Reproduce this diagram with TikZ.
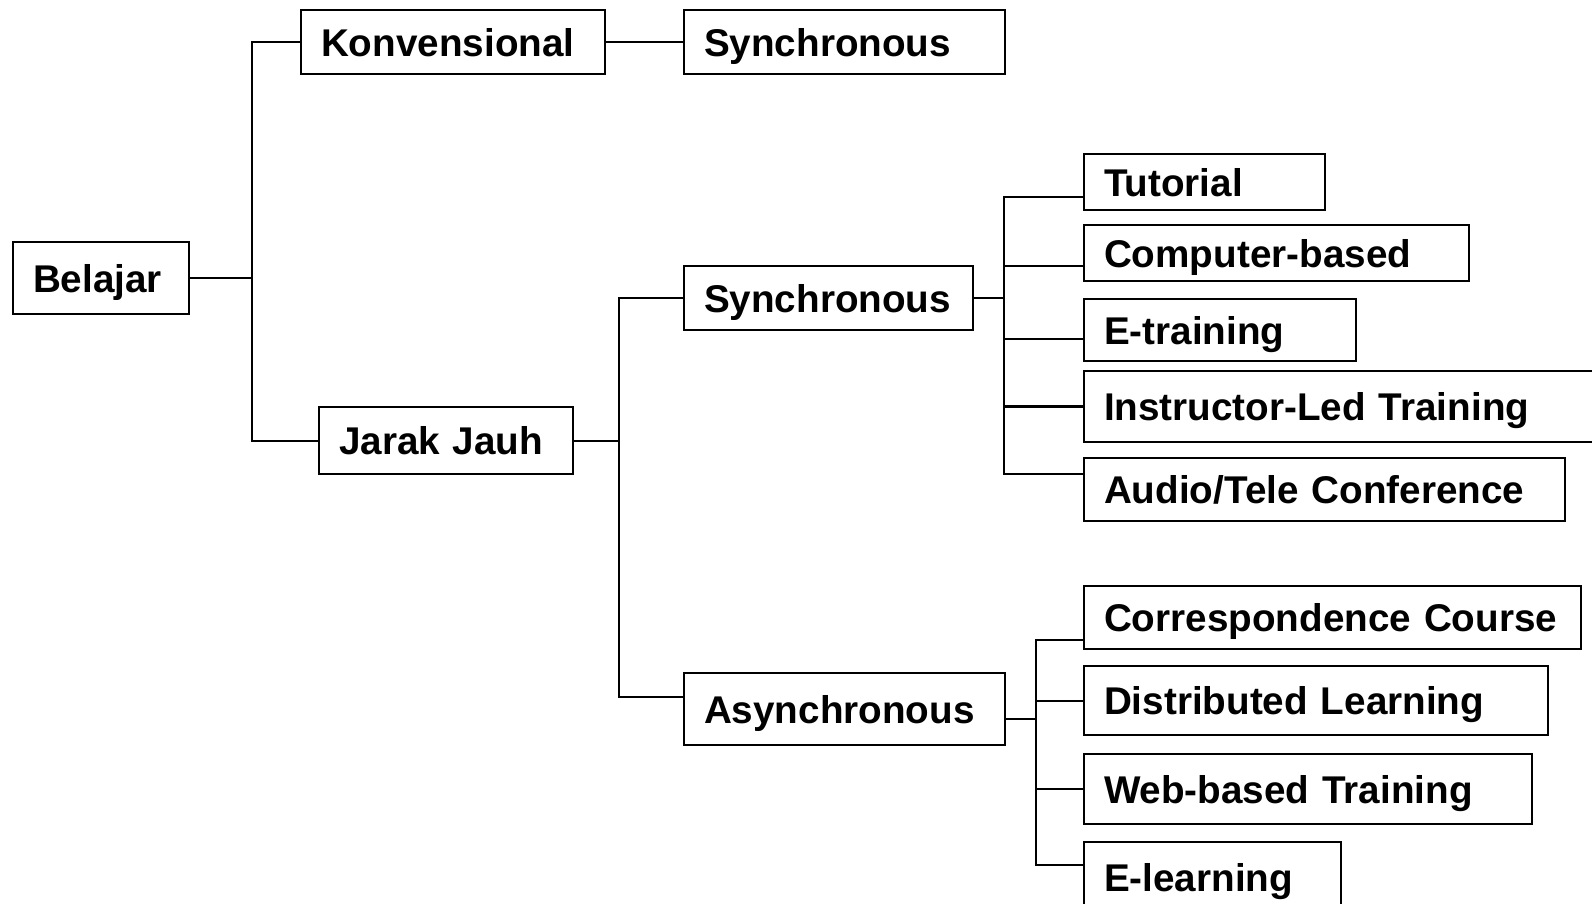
\documentclass[tikz,border=0pt]{standalone}
\usepackage{fontspec}
\setmainfont{Liberation Sans}
\usetikzlibrary{calc,positioning}

\begin{document}
\begin{tikzpicture}[
x=0.02cm, y=-0.02cm,
box/.style  = {text width=#1,
               draw, line width=1.2pt, anchor=north west,
               inner xsep=0.4cm, inner ysep=0pt, align=left,
               text height=0.56cm, text depth=0pt,
               font=\fontsize{22}{26}\selectfont\bfseries},
link/.style = {line width=1.2pt},
                    ]
\useasboundingbox (0,0) rectangle (1592,903);
\clip (0,0) rectangle (1592,903);

\node[box=2.72cm, minimum height=1.44cm] (bel)  at (12,241)   {Belajar};
\node[box=5.28cm, minimum height=1.28cm] (konv) at (300,9)    {Konvensional};
\node[box=5.62cm, minimum height=1.28cm] (syn1) at (683,9)    {Synchronous};
\node[box=4.28cm, minimum height=1.34cm] (jj)   at (318,406)  {Jarak Jauh};
\node[box=4.98cm, minimum height=1.28cm] (syn2) at (683,265)  {Synchronous};
\node[box=5.62cm, minimum height=1.44cm] (asyn) at (683,672)  {Asynchronous};

\node[box=4.02cm, minimum height=1.12cm] (tut)  at (1083,153) {Tutorial};
\node[box=6.90cm, minimum height=1.12cm] (comp) at (1083,224) {Computer-based};
\node[box=4.64cm, minimum height=1.24cm] (etr)  at (1083,298) {E-training};
\node[box=10.0cm, minimum height=1.42cm] (ilt)  at (1083,370) {Instructor-Led Training};
\node[box=8.82cm, minimum height=1.26cm] (aud)  at (1083,457) {Audio/Tele Conference};

\node[box=9.14cm, minimum height=1.26cm] (corr) at (1083,585) {Correspondence Course};
\node[box=8.48cm, minimum height=1.38cm] (dist) at (1083,665) {Distributed Learning};
\node[box=8.16cm, minimum height=1.40cm] (web)  at (1083,753) {Web-based Training};
\node[box=4.34cm, minimum height=1.42cm] (elr)  at (1083,841) {E-learning};

% first level
\coordinate (spA) at (252,0);
\draw[link] (bel.east) -- (bel.east -| spA);
\draw[link] (konv.west) -| (spA |- jj.west) -- (jj.west);
\draw[link] (konv.east) -- (syn1.west);

% jarak jauh
\coordinate (spB) at (619,0);
\coordinate (asynL) at ($(asyn.west)+(0,-12)$);
\draw[link] (jj.east) -- (jj.east -| spB);
\draw[link] (syn2.west) -| (spB |- asynL) -- (asynL);

% synchronous
\coordinate (spC) at (1004,0);
\coordinate (tutL)  at ($(tut.west)+(0,15)$);
\coordinate (compL) at ($(comp.west)+(0,13)$);
\coordinate (etrL)  at ($(etr.west)+(0,9)$);
\coordinate (audL)  at ($(aud.west)+(0,-16)$);
\draw[link] (syn2.east) -- (syn2.east -| spC);
\draw[link] (tutL) -| (spC |- audL) -- (audL);
\draw[link] (compL -| spC) -- (compL);
\draw[link] (etrL -| spC) -- (etrL);
\draw[link] (ilt.west -| spC) -- (ilt.west);

% asynchronous
\coordinate (spD) at (1036,0);
\coordinate (asynR) at ($(asyn.east)+(0,10)$);
\coordinate (corrL) at ($(corr.west)+(0,22)$);
\coordinate (elrL)  at ($(elr.west)+(0,-13)$);
\draw[link] (asynR) -- (asynR -| spD);
\draw[link] (corrL) -| (spD |- elrL) -- (elrL);
\draw[link] (dist.west -| spD) -- (dist.west);
\draw[link] (web.west -| spD) -- (web.west);
\end{tikzpicture}
\end{document}
